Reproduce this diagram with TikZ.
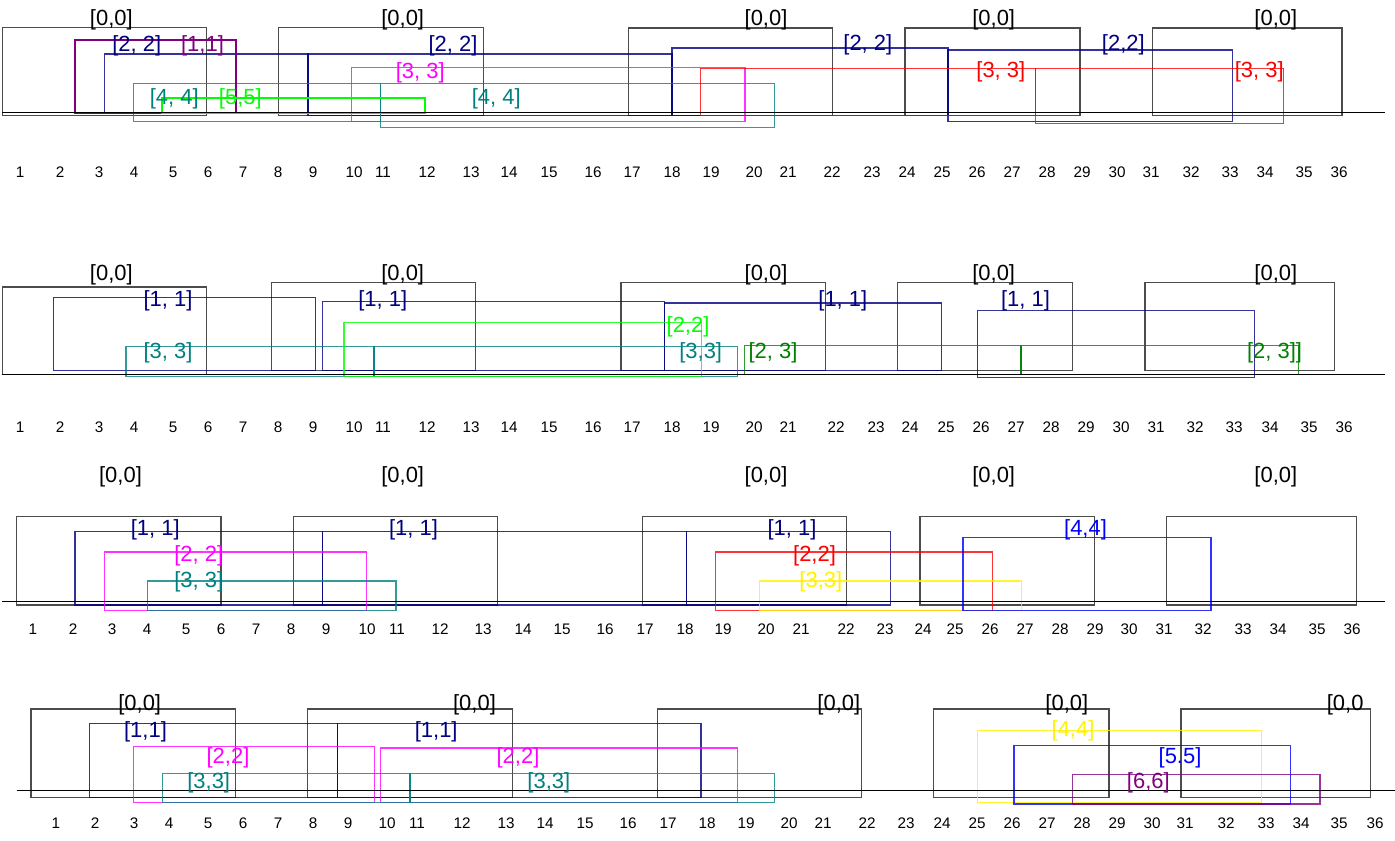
\documentclass[tikz,border=0pt]{standalone}
\usepackage{fontspec}
\setmainfont{Liberation Sans}

\definecolor{navyc}{HTML}{000080}
\definecolor{tealc}{HTML}{008080}
\definecolor{purplec}{HTML}{800080}
\definecolor{dkgreenc}{HTML}{008000}
\definecolor{limec}{HTML}{00FF00}
\definecolor{magentac}{HTML}{FF00FF}

\begin{document}
\begin{tikzpicture}[x=0.02cm, y=-0.02cm]

\tikzstyle{bx}=[line width=0.6pt, draw opacity=0.8]
\tikzstyle{blk}=[line width=0.6pt, draw=black!70]
\tikzstyle{fat}=[line width=1.2pt]
\tikzstyle{lbl}=[inner sep=0pt, font=\fontsize{12.5}{14}\selectfont]
\tikzstyle{tick}=[inner sep=0pt, font=\fontsize{8.7}{10}\selectfont]

\useasboundingbox (0,0) rectangle (1395,841);

% first row
\draw[blk] (2.3,27.7) rectangle (206.7,115.7);
\draw[blk] (278.7,27.7) rectangle (483.3,115.7);
\draw[blk] (628.3,28) rectangle (832.3,115.7);
\draw[blk] (905,28) rectangle (1080,115.7);
\draw[blk] (1152.3,28) rectangle (1342,115.7);

\draw[bx, draw=navyc] (104.3,54) rectangle (308,113);
\draw[bx, draw=navyc] (308,54) rectangle (672,115.7);
\draw[bx, draw=navyc] (672,48) rectangle (948,115.7);
\draw[bx, draw=navyc] (948,50) rectangle (1232.3,121.7);
\draw[bx, draw=tealc] (133.3,83.3) rectangle (380.7,121.7);
\draw[bx, draw=tealc] (380.7,83.3) rectangle (774.3,127.3);
\draw[bx, draw=magentac] (351.7,67.3) rectangle (745,121.7);
\draw[bx, draw=red] (700.7,68.7) rectangle (1035.3,115.7);
\draw[bx, draw=red] (1035.3,68.7) rectangle (1283.3,123.3);
\draw[fat, draw=purplec] (74.7,39.7) rectangle (236,113);
\draw[fat, draw=limec] (162.3,98) rectangle (425,112.7);

\draw (2,112) -- (1385,112);

\node(A01)[lbl] at (111.3,20) {[0,0]};
\node(A02)[lbl] at (402.7,20) {[0,0]};
\node(A03)[lbl] at (766,20) {[0,0]};
\node(A04)[lbl] at (993.7,20) {[0,0]};
\node(A05)[lbl] at (1275.8,20) {[0,0]};
\node(A11)[lbl, text=purplec] at (202.5,46) {[1,1]};
\node(A21)[lbl, text=navyc] at (136.7,46) {[2, 2]};
\node(A22)[lbl, text=navyc] at (453,46) {[2, 2]};
\node(A23)[lbl, text=navyc] at (867.8,45) {[2, 2]};
\node(A24)[lbl, text=navyc] at (1123.3,45) {[2,2]};
\node(A31)[lbl, text=magentac] at (420.3,73) {[3, 3]};
\node(A32)[lbl, text=red] at (1000.8,72) {[3, 3]};
\node(A33)[lbl, text=red] at (1259.2,72) {[3, 3]};
\node(A41)[lbl, text=tealc] at (174.2,99) {[4, 4]};
\node(A42)[lbl, text=tealc] at (496.3,99) {[4, 4]};
\node(A51)[lbl, text=limec] at (240.3,99) {[5,5]};

\foreach \x [count=\i] in {20,60,99,134,173,208,243,278,313,354,383,427,471,509,549,593,632,672,711,754,788,832,872,907,942,977,1012,1047,1082,1117,1151,1191,1230,1265,1304,1339}
  \node(Ta\i)[tick] at (\x,172) {\i};

% second row
\draw[blk] (2.3,287) rectangle (206.7,374.3);
\draw[blk] (271.7,282.7) rectangle (475.7,370.7);
\draw[blk] (621,282.7) rectangle (825.3,370.7);
\draw[blk] (897.3,282.7) rectangle (1072.3,370.7);
\draw[blk] (1145,282.7) rectangle (1334.7,370.7);

\draw[bx, draw=navyc] (53.3,297.3) rectangle (315.7,370.7);
\draw[bx, draw=navyc] (322.3,301.7) rectangle (664.3,370.7);
\draw[bx, draw=navyc] (664.3,303) rectangle (941.7,370.7);
\draw[bx, draw=navyc] (977.7,310.3) rectangle (1254.3,377.7);
\draw[bx, draw=tealc] (126,346.3) rectangle (374,376.3);
\draw[bx, draw=tealc] (374,346.3) rectangle (737.7,376.3);
\draw[bx, draw=limec] (344,322.3) rectangle (701.3,376.3);
\draw[bx, draw=dkgreenc] (744.3,345.3) rectangle (1021,374.3);
\draw[bx, draw=dkgreenc] (1021,345.3) rectangle (1298.3,374.3);

\draw (2,374.3) -- (1385,374.3);

\node(B01)[lbl] at (111.3,274.7) {[0,0]};
\node(B02)[lbl] at (402.7,274.7) {[0,0]};
\node(B03)[lbl] at (766,274.7) {[0,0]};
\node(B04)[lbl] at (993.7,274.7) {[0,0]};
\node(B05)[lbl] at (1275.8,274.7) {[0,0]};
\node(B11)[lbl, text=navyc] at (168,300.5) {[1, 1]};
\node(B12)[lbl, text=navyc] at (382.8,300.5) {[1, 1]};
\node(B13)[lbl, text=navyc] at (842.8,300.5) {[1, 1]};
\node(B14)[lbl, text=navyc] at (1025.5,300.5) {[1, 1]};
\node(B21)[lbl, text=limec] at (688,326.7) {[2,2]};
\node(B31)[lbl, text=tealc] at (168,353) {[3, 3]};
\node(B32)[lbl, text=tealc] at (700.7,353) {[3,3]};
\node(B41)[lbl, text=dkgreenc] at (773,353) {[2, 3]};
\node(B42)[lbl, text=dkgreenc] at (1274.5,353) {[2, 3]]};

\foreach \x [count=\i] in {20,60,99,134,173,208,243,278,313,354,383,427,471,509,549,593,632,672,711,754,788,836,876,910,946,981,1016,1051,1086,1121,1156,1195,1234,1270,1309,1344}
  \node(Tb\i)[tick] at (\x,427) {\i};

% third row
\draw[blk] (16.7,516.7) rectangle (221,605);
\draw[blk] (293.3,516.7) rectangle (497.3,605);
\draw[blk] (642.7,516.7) rectangle (846.7,605);
\draw[blk] (920,516.7) rectangle (1094.3,605);
\draw[blk] (1166.7,516.7) rectangle (1356.7,605);

\draw[bx, draw=navyc] (75,531.7) rectangle (322.7,605);
\draw[bx, draw=navyc] (322.7,531.7) rectangle (686.7,605);
\draw[bx, draw=navyc] (686.7,531.7) rectangle (890.7,605);
\draw[bx, draw=magentac] (104.7,552) rectangle (366.7,610.7);
\draw[bx, draw=tealc] (147.7,581) rectangle (396,610.7);
\draw[bx, draw=red] (715.3,552) rectangle (992.3,610.7);
\draw[bx, draw=yellow] (759.3,581) rectangle (1021.7,610.7);
\draw[bx, draw=blue] (963,537.3) rectangle (1211,610.7);

\draw (2,601.7) -- (1385,601.7);

\node(C01)[lbl] at (120.5,477) {[0,0]};
\node(C02)[lbl] at (402.7,477) {[0,0]};
\node(C03)[lbl] at (766,477) {[0,0]};
\node(C04)[lbl] at (993.7,477) {[0,0]};
\node(C05)[lbl] at (1275.8,477) {[0,0]};
\node(C11)[lbl, text=navyc] at (155.3,530) {[1, 1]};
\node(C12)[lbl, text=navyc] at (413.5,530) {[1, 1]};
\node(C13)[lbl, text=navyc] at (792,530) {[1, 1]};
\node(C21)[lbl, text=magentac] at (198.8,555.7) {[2, 2]};
\node(C22)[lbl, text=red] at (814.5,555.7) {[2,2]};
\node(C31)[lbl, text=tealc] at (198.8,581.7) {[3, 3]};
\node(C32)[lbl, text=yellow] at (820.8,581.7) {[3,3]};
\node(C41)[lbl, text=blue] at (1085.5,529.5) {[4,4]};

\foreach \x [count=\i] in {33,73,112,147,186,221,256,291,326,367,397,440,483,523,562,605,645,685,723,766,801,846,885,923,955,990,1025,1060,1095,1129,1164,1203,1243,1278,1317,1352}
  \node(Tc\i)[tick] at (\x,629) {\i};

% fourth row
\draw[blk] (31,709) rectangle (235.7,797.3);
\draw[blk] (307.7,709) rectangle (512.3,797.3);
\draw[blk] (657.7,709) rectangle (861.7,797.3);
\draw[blk] (933.3,709) rectangle (1109,797.3);
\draw[blk] (1181,709) rectangle (1370.7,797.3);

\draw[bx, draw=navyc] (89.3,723.3) rectangle (337.3,797.3);
\draw[bx, draw=navyc] (337.3,723.3) rectangle (701,797.3);
\draw[bx, draw=magentac] (133.3,746.7) rectangle (374.3,802.7);
\draw[bx, draw=magentac] (380.7,748) rectangle (737.7,802.7);
\draw[bx, draw=tealc] (162.3,773.3) rectangle (410,802.7);
\draw[bx, draw=tealc] (410,773.3) rectangle (774.3,802.7);
\draw[bx, draw=yellow] (977.7,730.7) rectangle (1261.7,802.7);
\draw[bx, draw=blue] (1014,745.7) rectangle (1290.7,804);
\draw[bx, draw=purplec] (1072.3,774.3) rectangle (1320,804);

\draw (16.7,790.7) -- (1395,790.7);

\node(D01)[lbl] at (139.7,705.3) {[0,0]};
\node(D02)[lbl] at (474.5,705.3) {[0,0]};
\node(D03)[lbl] at (838.8,705.3) {[0,0]};
\node(D04)[lbl] at (1066.8,705.3) {[0,0]};
\node(D05)[lbl, anchor=west] at (1326.5,705.3) {[0,0};
\node(D11)[lbl, text=navyc] at (145.5,731.7) {[1,1]};
\node(D12)[lbl, text=navyc] at (436.2,731.7) {[1,1]};
\node(D21)[lbl, text=magentac] at (228,757.7) {[2,2]};
\node(D22)[lbl, text=magentac] at (518,757.7) {[2,2]};
\node(D31)[lbl, text=tealc] at (208.7,783.3) {[3,3]};
\node(D32)[lbl, text=tealc] at (548.8,783.3) {[3,3]};
\node(D41)[lbl, text=yellow] at (1073,731.3) {[4,4]};
\node(D51)[lbl, text=blue] at (1180,757.7) {[5.5]};
\node(D61)[lbl, text=purplec] at (1148.3,783.3) {[6,6]};

\foreach \x [count=\i] in {56,95,134,169,208,243,278,313,348,387,417,462,506,545,585,628,668,707,746,789,823,867,906,942,977,1012,1047,1082,1117,1152,1185,1226,1266,1301,1339,1375}
  \node(Td\i)[tick] at (\x,823.5) {\i};

\end{tikzpicture}
\end{document}
